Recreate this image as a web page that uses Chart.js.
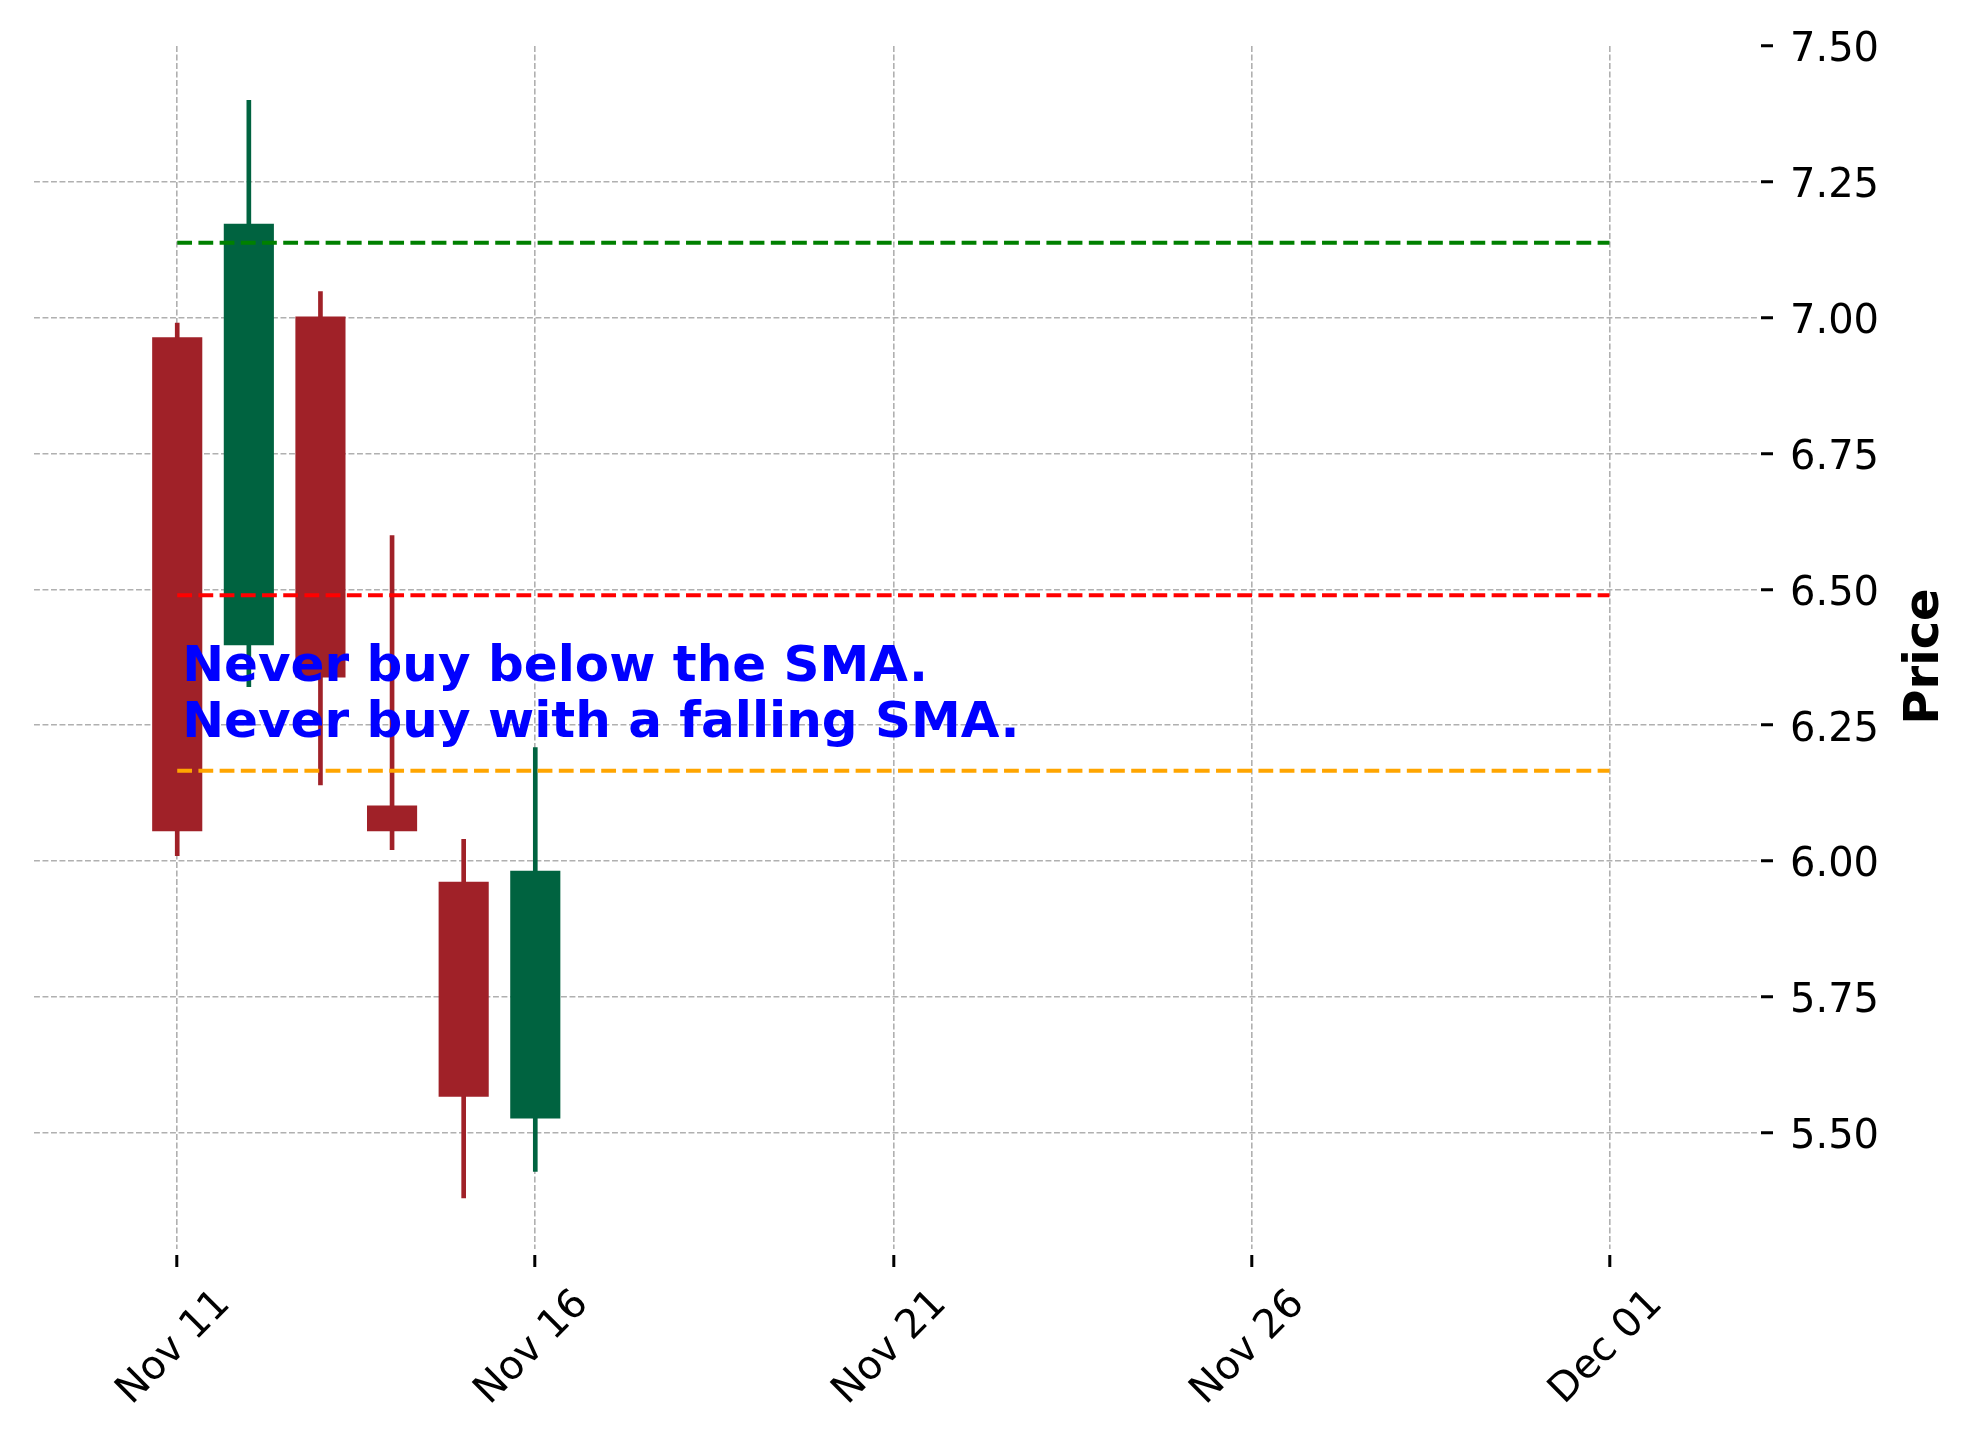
<!DOCTYPE html>
<html>
<head>
<meta charset="utf-8">
<title>Price</title>
<script src="https://cdn.jsdelivr.net/npm/chart.js@4/dist/chart.umd.min.js"></script>
<style>
  html, body { margin: 0; padding: 0; background: #fff; }
  canvas { display: block; }
</style>
</head>
<body>
<canvas id="chart" width="1974" height="1446"></canvas>
<script>
// candle data
const dates  = ['2020-11-11', '2020-11-12', '2020-11-13', '2020-11-14', '2020-11-15', '2020-11-16'];
const opens  = [6.964, 6.397, 7.002, 6.102, 5.962, 5.526];
const highs  = [6.990, 7.400, 7.048, 6.599, 6.040, 6.209];
const lows   = [6.010, 6.321, 6.140, 6.021, 5.380, 5.429];
const closes = [6.055, 7.173, 6.338, 6.055, 5.566, 5.982];

// dashed horizontal levels (from Nov 11 to Dec 01)
const levelValues = [7.138, 6.489, 6.166];
const levelStart = '2020-11-11';
const levelEnd = '2020-12-01';

// axes
const xTickDates  = ['2020-11-11', '2020-11-16', '2020-11-21', '2020-11-26', '2020-12-01'];
const xTickLabels = ['Nov 11', 'Nov 16', 'Nov 21', 'Nov 26', 'Dec 01'];
const yTicks = [5.50, 5.75, 6.00, 6.25, 6.50, 6.75, 7.00, 7.25, 7.50];

const noteLines = ['Never buy below the SMA.', 'Never buy with a falling SMA.'];
const noteDate = '2020-11-11';
const noteY = [6.331, 6.229];

const upColor = '#006340';
const downColor = '#a02128';
const levelColors = ['#008000', '#ff0000', '#ffa500'];
const gridColor = '#b0b0b0';

const DAY = 86400000;
const day = s => (Date.parse(s) - Date.parse(dates[0])) / DAY;

const candleColors = opens.map((o, i) => closes[i] >= o ? upColor : downColor);

const datasets = levelValues.map((v, i) => ({
    type: 'line',
    data: [{ x: day(levelStart), y: v }, { x: day(levelEnd), y: v }],
    borderColor: levelColors[i],
    borderWidth: 4,
    borderDash: [14.8, 6.4],
    pointRadius: 0,
    fill: false,
    order: 0
}));

datasets.push({
    type: 'bar',
    data: dates.map((d, i) => ({ x: day(d), y: [opens[i], closes[i]] })),
    backgroundColor: candleColors,
    borderWidth: 0,
    barPercentage: 0.7,
    categoryPercentage: 1.0,
    grouped: false,
    order: 1
});

datasets.push({
    type: 'bar',
    data: dates.map((d, i) => ({ x: day(d), y: [lows[i], highs[i]] })),
    backgroundColor: candleColors,
    borderWidth: 0,
    barThickness: 4,
    grouped: false,
    order: 2
});

const overlay = {
    id: 'overlay',
    afterDatasetsDraw(chart) {
        const { ctx, scales: { x, y } } = chart;
        ctx.save();
        ctx.fillStyle = '#0000ff';
        ctx.font = 'bold 50px "DejaVu Sans"';
        ctx.textAlign = 'left';
        ctx.textBaseline = 'alphabetic';
        noteLines.forEach((t, i) => {
            ctx.fillText(t, x.getPixelForValue(day(noteDate)) + 5, y.getPixelForValue(noteY[i]));
        });
        ctx.restore();
    },
    afterDraw(chart) {
        const { ctx, chartArea, scales: { y } } = chart;
        ctx.save();
        ctx.translate(y.left + 181, (chartArea.top + chartArea.bottom) / 2 + 9);
        ctx.rotate(-Math.PI / 2);
        ctx.fillStyle = '#000';
        ctx.font = 'bold 48px "DejaVu Sans"';
        ctx.textAlign = 'center';
        ctx.textBaseline = 'alphabetic';
        ctx.fillText('Price', 0, 0);
        ctx.restore();
    }
};

Chart.defaults.font.family = '"DejaVu Sans", sans-serif';
Chart.defaults.color = '#000';

new Chart(document.getElementById('chart'), {
    type: 'bar',
    data: { datasets },
    options: {
        responsive: false,
        animation: false,
        devicePixelRatio: 1,
        layout: { padding: { left: 34, top: 46, right: 0, bottom: 0 } },
        plugins: { legend: { display: false }, tooltip: { enabled: false } },
        scales: {
            x: {
                type: 'linear',
                min: -2.0,
                max: 22.06,
                offset: false,
                afterBuildTicks: s => { s.ticks = xTickDates.map(d => ({ value: day(d) })); },
                afterFit: s => { s.height = 197; },
                grid: {
                    offset: false,
                    color: gridColor,
                    lineWidth: 1.6,
                    tickLength: 18,
                    tickColor: '#000',
                    tickWidth: 3,
                    tickBorderDash: [0, 6, 12, 6]
                },
                border: { display: false, dash: [5.9, 2.6] },
                ticks: {
                    autoSkip: false,
                    minRotation: 45,
                    maxRotation: 45,
                    labelOffset: 47,
                    padding: 14,
                    font: { size: 40 },
                    color: '#000',
                    callback: (v, i) => xTickLabels[i]
                }
            },
            y: {
                type: 'linear',
                position: 'right',
                min: 5.286,
                max: 7.5,
                afterBuildTicks: s => { s.ticks = yTicks.map(v => ({ value: v })); },
                afterFit: s => { s.width = 217; },
                grid: {
                    color: c => (c.tick && c.tick.value >= 7.5) ? 'rgba(0,0,0,0)' : gridColor,
                    lineWidth: 1.6,
                    tickLength: 16,
                    tickColor: '#000',
                    tickWidth: 3,
                    tickBorderDash: [0, 4, 12, 6]
                },
                border: { display: false, dash: [5.9, 2.6] },
                ticks: {
                    padding: 17,
                    labelOffset: 5,
                    font: { size: 40 },
                    color: '#000',
                    callback: v => v.toFixed(2)
                }
            }
        }
    },
    plugins: [overlay]
});
</script>
</body>
</html>
